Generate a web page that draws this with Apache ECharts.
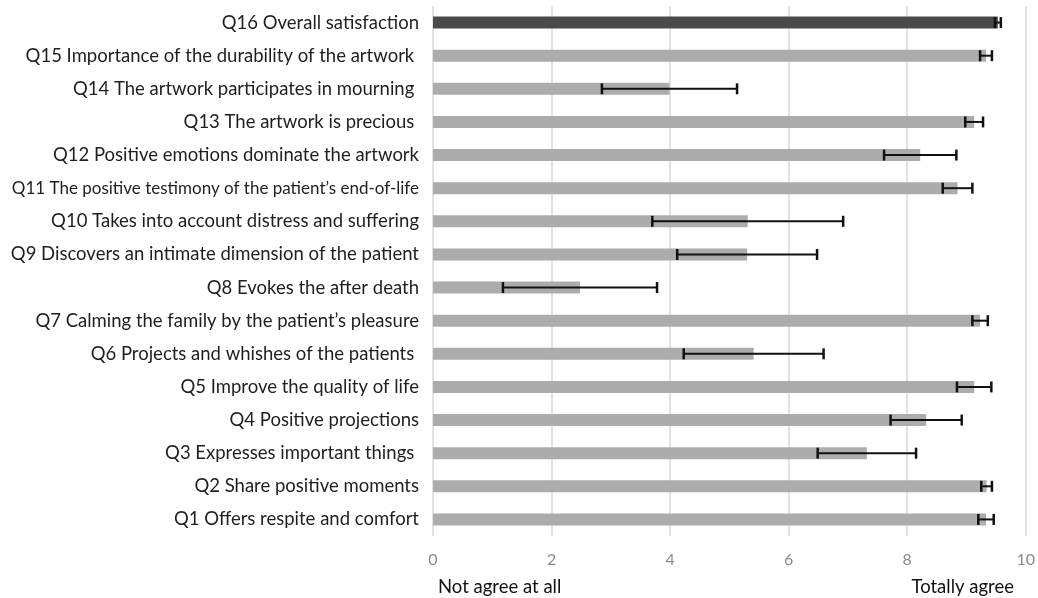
<!DOCTYPE html>
<html><head><meta charset="utf-8">
<script src="https://cdn.jsdelivr.net/npm/echarts@6/dist/echarts.min.js"></script>
<style>html,body{margin:0;padding:0;background:#fff}#c{width:1038px;height:598px}</style>
</head><body><div id="c"></div>
<script>
const categories = [
  "Q16 Overall satisfaction",
  "Q15 Importance of the durability of the artwork ",
  "Q14 The artwork participates in mourning ",
  "Q13 The artwork is precious ",
  "Q12 Positive emotions dominate the artwork",
  "Q11 The positive testimony of the patient\u2019s end-of-life",
  "Q10 Takes into account distress and suffering",
  "Q9 Discovers an intimate dimension of the patient",
  "Q8 Evokes the after death",
  "Q7 Calming the family by the patient\u2019s pleasure",
  "Q6 Projects and whishes of the patients ",
  "Q5 Improve the quality of life",
  "Q4 Positive projections",
  "Q3 Expresses important things ",
  "Q2 Share positive moments",
  "Q1 Offers respite and comfort"
];
const means  = [9.53, 9.33, 3.99, 9.13, 8.22, 8.85, 5.31, 5.30, 2.48, 9.23, 5.41, 9.13, 8.32, 7.32, 9.34, 9.33];
const errors = [0.05, 0.10, 1.14, 0.15, 0.61, 0.25, 1.61, 1.18, 1.30, 0.13, 1.18, 0.29, 0.60, 0.83, 0.09, 0.13];
const xTicks = [0, 2, 4, 6, 8, 10];
const highlighted = "Q16 Overall satisfaction";
const smallLabel = "Q11 The positive testimony of the patient\u2019s end-of-life";

const chart = echarts.init(document.getElementById('c'), null, {renderer: 'canvas'});
const FONT = 'Lato, "Open Sans", sans-serif';
chart.setOption({
  animation: false,
  grid: {left: 433, right: 11, top: 6, bottom: 62, containLabel: false},
  xAxis: {
    type: 'value', min: xTicks[0], max: xTicks[xTicks.length-1], interval: 2,
    axisLine: {show: false}, axisTick: {show: false},
    splitLine: {show: true, lineStyle: {color: '#d9d9d9', width: 1.5}},
    axisLabel: {color: '#8a8a8a', fontSize: 16, fontFamily: FONT, margin: 16}
  },
  yAxis: {
    type: 'category', data: categories, inverse: true,
    axisLine: {show: false}, axisTick: {show: false},
    axisLabel: {
      color: '#1f1f1f', fontSize: 18.5, fontFamily: FONT, margin: 14,
      formatter: v => v === smallLabel ? '{s|' + v + '}' : v,
      rich: {s: {fontSize: 17, fontFamily: FONT, color: '#1f1f1f'}}
    }
  },
  series: [
    {
      type: 'bar', barWidth: 12,
      data: means.map((m, i) => ({value: m, itemStyle: {color: categories[i] === highlighted ? '#4a4a4a' : '#acacac'}}))
    },
    {
      type: 'custom', z: 5,
      data: means.map((m, i) => [i, m - errors[i], m + errors[i]]),
      encode: {x: [1, 2], y: 0},
      renderItem: function (params, api) {
        const yi = api.value(0);
        const lo = api.coord([api.value(1), yi]);
        const hi = api.coord([api.value(2), yi]);
        const h = 5.5;
        const st = {stroke: '#111', lineWidth: 2};
        return {type: 'group', children: [
          {type: 'line', shape: {x1: lo[0], y1: lo[1], x2: hi[0], y2: hi[1]}, style: st},
          {type: 'line', shape: {x1: lo[0], y1: lo[1]-h, x2: lo[0], y2: lo[1]+h}, style: {stroke: '#111', lineWidth: 2.5}},
          {type: 'line', shape: {x1: hi[0], y1: hi[1]-h, x2: hi[0], y2: hi[1]+h}, style: {stroke: '#111', lineWidth: 2.5}}
        ]};
      }
    }
  ],
  graphic: [
    {type: 'text', left: 438, top: 578, style: {text: 'Not agree at all', fontSize: 18.5, fontFamily: FONT, fill: '#111'}},
    {type: 'text', right: 24, top: 578, style: {text: 'Totally agree', fontSize: 18.5, fontFamily: FONT, fill: '#111'}}
  ]
});
</script></body></html>
